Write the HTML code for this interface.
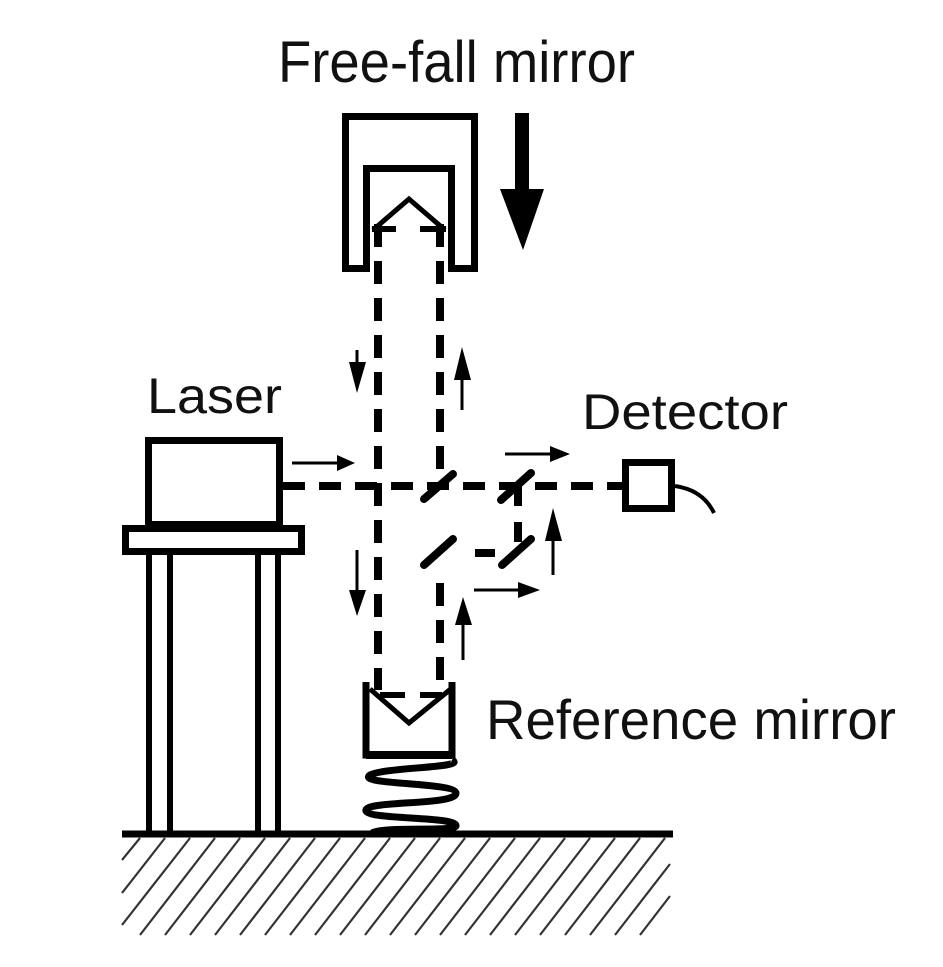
<!DOCTYPE html>
<html><head><meta charset="utf-8"><style>
html,body{margin:0;padding:0;background:#fff;}
svg{display:block;}
text{font-family:"Liberation Sans",Arial,sans-serif;fill:#111;}
</style></head><body>
<svg width="943" height="967" viewBox="0 0 943 967" xmlns="http://www.w3.org/2000/svg">
<!-- labels -->
<text x="278" y="82" font-size="58" textLength="357" lengthAdjust="spacingAndGlyphs">Free-fall mirror</text>
<text x="147" y="413" font-size="50" textLength="135" lengthAdjust="spacingAndGlyphs">Laser</text>
<text x="582" y="429" font-size="50" textLength="206" lengthAdjust="spacingAndGlyphs">Detector</text>
<text x="486" y="739" font-size="56" textLength="410" lengthAdjust="spacingAndGlyphs">Reference mirror</text>

<!-- free-fall mirror -->
<path d="M345.5,268.5 V116.5 H474.5 V268.5 H451.5 V168.5 H366.5 V268.5 Z" fill="none" stroke="#000" stroke-width="7" stroke-linejoin="miter"/>
<polyline points="373,230 409,199 445,230" fill="none" stroke="#000" stroke-width="5"/>
<line x1="372" y1="229" x2="396" y2="229" stroke="#000" stroke-width="6"/>
<line x1="420" y1="229" x2="446" y2="229" stroke="#000" stroke-width="6"/>
<!-- big arrow -->
<rect x="515" y="113" width="14" height="78" fill="#000"/>
<polygon points="500,189 544,189 523,250" fill="#000"/>

<!-- vertical beams -->
<line x1="378" y1="224" x2="378" y2="690" stroke="#000" stroke-width="8" stroke-dasharray="23 14"/>
<line x1="440" y1="224" x2="440" y2="473" stroke="#000" stroke-width="8" stroke-dasharray="23 14"/>
<line x1="440" y1="583" x2="440" y2="690" stroke="#000" stroke-width="8" stroke-dasharray="23 14"/>
<!-- horizontal beam -->
<line x1="283" y1="486" x2="625" y2="486" stroke="#000" stroke-width="8" stroke-dasharray="22 14"/>
<line x1="518" y1="486" x2="518" y2="545" stroke="#000" stroke-width="8" stroke-dasharray="20 16"/>
<line x1="455" y1="553" x2="500" y2="553" stroke="#000" stroke-width="8" stroke-dasharray="0 20 20 10"/>

<!-- beam splitters -->
<line x1="424" y1="499" x2="453" y2="474" stroke="#000" stroke-width="8" stroke-linecap="round"/>
<line x1="501" y1="500" x2="531" y2="473" stroke="#000" stroke-width="8" stroke-linecap="round"/>
<line x1="424" y1="565" x2="453" y2="539" stroke="#000" stroke-width="8" stroke-linecap="round"/>
<line x1="502" y1="565" x2="531" y2="539" stroke="#000" stroke-width="8" stroke-linecap="round"/>

<!-- detector -->
<rect x="625.5" y="462.5" width="46" height="46" fill="none" stroke="#000" stroke-width="7"/>
<path d="M675,486 Q703,490 714,513" fill="none" stroke="#000" stroke-width="4"/>

<!-- small arrows -->
<g stroke="#000" stroke-width="3" fill="#000">
<line x1="292" y1="463" x2="340" y2="463"/><polygon points="355,463 337,455 337,471" stroke="none"/>
<line x1="505" y1="454" x2="550" y2="454"/><polygon points="570,454 550,446 550,462" stroke="none"/>
<line x1="357" y1="350" x2="357" y2="370"/><polygon points="357,393 349,362 366,362" stroke="none"/>
<line x1="462" y1="375" x2="462" y2="410"/><polygon points="462,347 454,380 471,380" stroke="none"/>
<line x1="357" y1="550" x2="357" y2="595"/><polygon points="357,616 349,590 366,590" stroke="none"/>
<line x1="463" y1="620" x2="463" y2="660"/><polygon points="463,597 455,625 472,625" stroke="none"/>
<line x1="474" y1="590" x2="520" y2="590"/><polygon points="540,590 518,582 518,598" stroke="none"/>
<line x1="553" y1="535" x2="553" y2="575"/><polygon points="553,508 545,541 562,541" stroke="none"/>
</g>

<!-- laser -->
<rect x="148.5" y="440.5" width="131" height="84" fill="none" stroke="#000" stroke-width="7"/>
<rect x="125.5" y="528.5" width="176" height="23" fill="none" stroke="#000" stroke-width="7"/>
<g stroke="#000" stroke-width="6">
<line x1="149" y1="555" x2="149" y2="832"/>
<line x1="170" y1="555" x2="170" y2="832"/>
<line x1="258" y1="555" x2="258" y2="832"/>
<line x1="278" y1="555" x2="278" y2="832"/>
</g>

<!-- reference mirror -->
<path d="M366,682 V755 H452 V682" fill="none" stroke="#000" stroke-width="7"/>
<line x1="366" y1="755" x2="452" y2="755" stroke="#000" stroke-width="8"/>
<polyline points="370,689 409,723 452,688" fill="none" stroke="#000" stroke-width="5"/>
<line x1="380" y1="695" x2="405" y2="695" stroke="#000" stroke-width="6"/>
<line x1="420" y1="695" x2="442" y2="695" stroke="#000" stroke-width="6"/>
<!-- spring -->
<path d="M452,760 C468,768 385,767 370,775 C355,785 455,782 456,793 C457,806 362,800 366,811 C370,820 458,816 456,826 C454,832 385,826 372,833" fill="none" stroke="#000" stroke-width="7"/>

<!-- ground -->
<line x1="122" y1="834" x2="673" y2="834" stroke="#000" stroke-width="7"/>
<g stroke="#333" stroke-width="2.2">
<line x1="122" y1="860" x2="140" y2="838"/>
<line x1="122" y1="893" x2="165" y2="838"/>
<line x1="122" y1="925" x2="190" y2="838"/>
<line x1="140" y1="935" x2="215" y2="838"/>
<line x1="165" y1="935" x2="240" y2="838"/>
<line x1="190" y1="935" x2="265" y2="838"/>
<line x1="215" y1="935" x2="290" y2="838"/>
<line x1="240" y1="935" x2="315" y2="838"/>
<line x1="265" y1="935" x2="340" y2="838"/>
<line x1="290" y1="935" x2="365" y2="838"/>
<line x1="315" y1="935" x2="390" y2="838"/>
<line x1="340" y1="935" x2="415" y2="838"/>
<line x1="365" y1="935" x2="440" y2="838"/>
<line x1="390" y1="935" x2="465" y2="838"/>
<line x1="415" y1="935" x2="490" y2="838"/>
<line x1="440" y1="935" x2="515" y2="838"/>
<line x1="465" y1="935" x2="540" y2="838"/>
<line x1="490" y1="935" x2="565" y2="838"/>
<line x1="515" y1="935" x2="590" y2="838"/>
<line x1="540" y1="935" x2="615" y2="838"/>
<line x1="565" y1="935" x2="640" y2="838"/>
<line x1="590" y1="935" x2="665" y2="838"/>
<line x1="615" y1="935" x2="670" y2="864"/>
<line x1="640" y1="935" x2="670" y2="896"/>
</g>
</svg>
</body></html>
